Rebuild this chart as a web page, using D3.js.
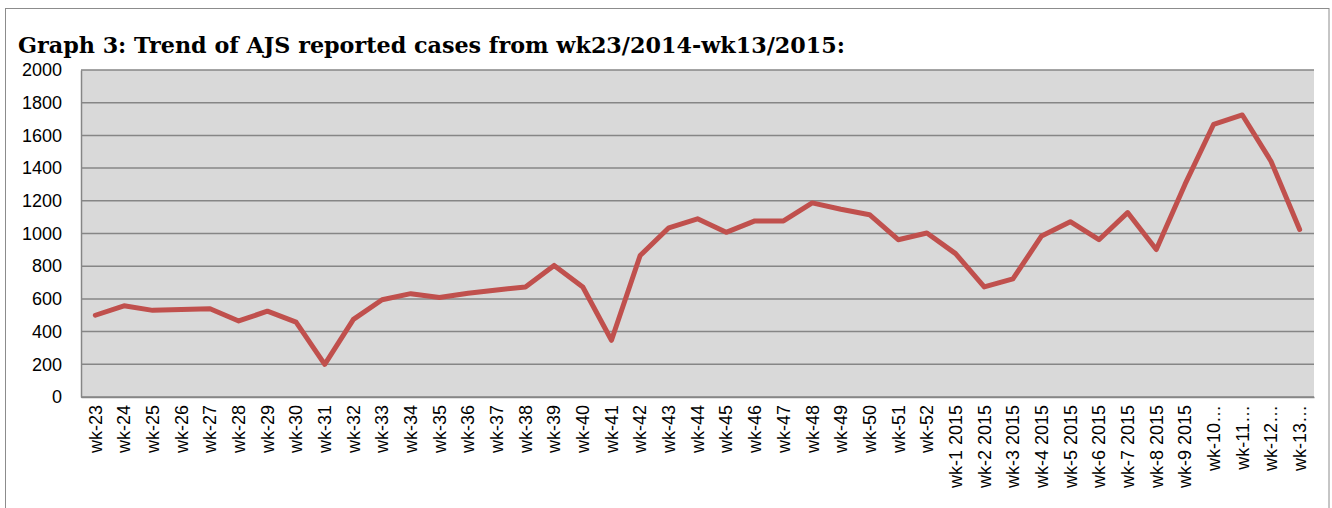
<!DOCTYPE html>
<html>
<head>
<meta charset="utf-8">
<script src="https://cdn.jsdelivr.net/npm/d3@7"></script>
<style>
  body { margin: 0; background: #fff; }
  svg { display: block; }
</style>
</head>
<body>
<div id="container"></div>
<script>
/* DATA */
const weeks = [
  "wk-23", "wk-24", "wk-25", "wk-26", "wk-27", "wk-28", "wk-29", "wk-30", "wk-31", "wk-32",
  "wk-33", "wk-34", "wk-35", "wk-36", "wk-37", "wk-38", "wk-39", "wk-40", "wk-41", "wk-42",
  "wk-43", "wk-44", "wk-45", "wk-46", "wk-47", "wk-48", "wk-49", "wk-50", "wk-51", "wk-52",
  "wk-1 2015", "wk-2 2015", "wk-3 2015", "wk-4 2015", "wk-5 2015", "wk-6 2015", "wk-7 2015",
  "wk-8 2015", "wk-9 2015", "wk-10…", "wk-11…", "wk-12…", "wk-13…"
];
const cases = [
  500, 558, 530, 535, 540, 465, 525, 458, 200, 475,
  595, 632, 608, 635, 655, 673, 805, 673, 347, 865,
  1035, 1090, 1007, 1077, 1077, 1187, 1148, 1115, 962, 1003,
  877, 673, 722, 985, 1072, 962, 1128, 902, 1300, 1668, 1725, 1442, 1025
];
const yTicks = [0, 200, 400, 600, 800, 1000, 1200, 1400, 1600, 1800, 2000];
const title = "Graph 3: Trend of AJS reported cases from wk23/2014-wk13/2015:";

/* LAYOUT */
const width = 1332, height = 508;
const margin = { top: 70, bottom: 111, left: 81, right: 18 };

const svg = d3.select("#container").append("svg")
  .attr("width", width)
  .attr("height", height);

// outer frame
svg.append("rect")
  .attr("x", 5.5).attr("y", 8.5)
  .attr("width", width - 3 - 5.5).attr("height", height + 10)
  .attr("fill", "none")
  .attr("stroke", "#8c8c8c")
  .attr("stroke-width", 1);

svg.append("text")
  .attr("x", 18).attr("y", 53)
  .attr("font-family", "DejaVu Serif, serif")
  .attr("font-weight", "bold")
  .attr("font-size", 22)
  .attr("textLength", 827)
  .attr("lengthAdjust", "spacingAndGlyphs")
  .attr("fill", "#000")
  .text(title);

// scales
const xScale = d3.scaleBand()
  .domain(weeks)
  .range([margin.left, width - margin.right]);

const yScale = d3.scaleLinear()
  .domain([0, 2000])
  .range([height - margin.bottom, margin.top]);

// plot background
svg.append("rect")
  .attr("x", margin.left).attr("y", margin.top)
  .attr("width", xScale.range()[1] - margin.left)
  .attr("height", yScale(0) - margin.top)
  .attr("fill", "#d9d9d9");

// gridlines
svg.append("g")
  .selectAll("line")
  .data(yTicks)
  .join("line")
  .attr("x1", margin.left)
  .attr("x2", xScale.range()[1])
  .attr("y1", d => yScale(d))
  .attr("y2", d => yScale(d))
  .attr("stroke", "#868686")
  .attr("stroke-width", 1.5);

// y axis
const yAxis = d3.axisLeft(yScale).tickValues(yTicks).tickFormat(d3.format("d"))
  .tickSize(0).tickPadding(19);
const yAxisGroup = svg.append("g")
  .attr("transform", `translate(${margin.left}, 0)`)
  .call(yAxis);
yAxisGroup.select(".domain").attr("stroke", "#868686").attr("stroke-width", 1.5);
yAxisGroup.selectAll("text")
  .attr("font-family", "Liberation Sans, Arial, sans-serif")
  .attr("font-size", 18)
  .attr("fill", "#000");

// x axis
const xAxis = d3.axisBottom(xScale).tickSize(0).tickPadding(0);
const xAxisGroup = svg.append("g")
  .attr("transform", `translate(0, ${yScale(0)})`)
  .call(xAxis);
xAxisGroup.select(".domain").attr("stroke", "#868686").attr("stroke-width", 1.5);
xAxisGroup.selectAll("text")
  .attr("font-family", "Liberation Sans, Arial, sans-serif")
  .attr("font-size", 18)
  .attr("fill", "#000")
  .attr("text-anchor", "end")
  .attr("dy", "0.35em")
  .attr("transform", "translate(0, 8) rotate(-90)")
  .attr("y", 0)
  .attr("x", 0);

// line
const lineGen = d3.line()
  .x((d, i) => xScale(weeks[i]) + xScale.bandwidth() / 2)
  .y(d => yScale(d));

svg.append("path")
  .datum(cases)
  .attr("fill", "none")
  .attr("stroke", "#c0504d")
  .attr("stroke-width", 5)
  .attr("stroke-linejoin", "round")
  .attr("stroke-linecap", "round")
  .attr("d", lineGen);
</script>
</body>
</html>
